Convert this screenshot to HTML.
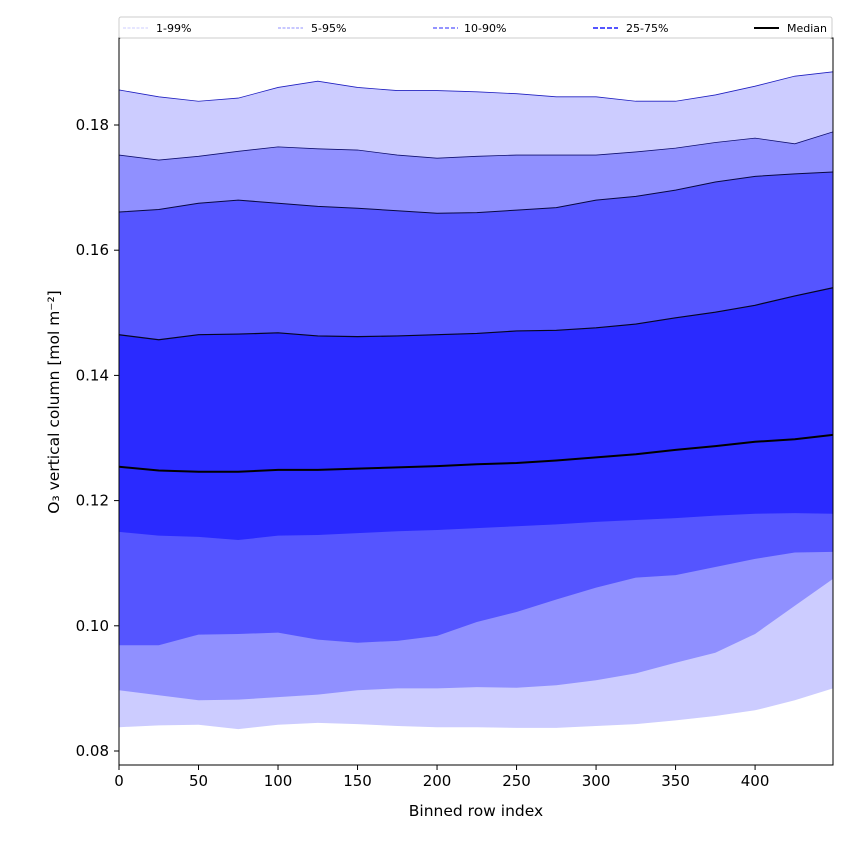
<!DOCTYPE html>
<html><head><meta charset="utf-8"><style>
body{margin:0;background:#fff;}
svg text{font-family:"DejaVu Sans","Liberation Sans",sans-serif;}
</style></head><body>
<svg id="chart" width="850" height="850" xmlns="http://www.w3.org/2000/svg"></svg>
<script>
const xIdx = [0,25,50,75,100,125,150,175,200,225,250,275,300,325,350,375,400,425,449];
const p01 = [0.0838,0.0841,0.0842,0.0835,0.0842,0.0845,0.0843,0.0840,0.0838,0.0838,0.0837,0.0837,0.0840,0.0843,0.0849,0.0856,0.0865,0.0881,0.0900];
const p05 = [0.0897,0.0889,0.0881,0.0882,0.0886,0.0890,0.0897,0.0900,0.0900,0.0902,0.0901,0.0905,0.0913,0.0924,0.0941,0.0957,0.0987,0.1032,0.1075];
const p10 = [0.0969,0.0969,0.0986,0.0987,0.0989,0.0978,0.0973,0.0976,0.0984,0.1006,0.1022,0.1042,0.1061,0.1077,0.1081,0.1094,0.1107,0.1117,0.1118];
const p25 = [0.1150,0.1144,0.1142,0.1137,0.1144,0.1145,0.1148,0.1151,0.1153,0.1156,0.1159,0.1162,0.1166,0.1169,0.1172,0.1176,0.1179,0.1180,0.1179];
const p50 = [0.1254,0.1248,0.1246,0.1246,0.1249,0.1249,0.1251,0.1253,0.1255,0.1258,0.1260,0.1264,0.1269,0.1274,0.1281,0.1287,0.1294,0.1298,0.1305];
const p75 = [0.1465,0.1457,0.1465,0.1466,0.1468,0.1463,0.1462,0.1463,0.1465,0.1467,0.1471,0.1472,0.1476,0.1482,0.1492,0.1501,0.1512,0.1527,0.1540];
const p90 = [0.1661,0.1665,0.1675,0.1680,0.1675,0.1670,0.1667,0.1663,0.1659,0.1660,0.1664,0.1668,0.1680,0.1686,0.1696,0.1709,0.1718,0.1722,0.1725];
const p95 = [0.1752,0.1744,0.1750,0.1758,0.1765,0.1762,0.1760,0.1752,0.1747,0.1750,0.1752,0.1752,0.1752,0.1757,0.1763,0.1772,0.1779,0.1770,0.1789];
const p99 = [0.1856,0.1845,0.1838,0.1843,0.1860,0.1870,0.1860,0.1855,0.1855,0.1853,0.1850,0.1845,0.1845,0.1838,0.1838,0.1848,0.1862,0.1878,0.1885];
const xTicks = [0,50,100,150,200,250,300,350,400];
const yTicks = [0.08,0.10,0.12,0.14,0.16,0.18];

const L=119,R=833,T=38,B=765;
const X=v=>L+(v-0)*(R-L)/449;
const Y=v=>125+(0.18-v)*6260;
const NS="http://www.w3.org/2000/svg";
const svg=document.getElementById('chart');
function mk(t,a,p){const e=document.createElementNS(NS,t);for(const k in a)e.setAttribute(k,a[k]);(p||svg).appendChild(e);return e;}
const clip=mk('clipPath',{id:'pc'});mk('rect',{x:L,y:T,width:R-L,height:B-T},clip);
const g=mk('g',{'clip-path':'url(#pc)'});
function band(lo,hi,fill,name){
  let d='M'+xIdx.map((x,i)=>X(x)+','+Y(hi[i])).join('L');
  for(let i=xIdx.length-1;i>=0;i--)d+='L'+X(xIdx[i])+','+Y(lo[i]);
  const e=mk('path',{d:d+'Z',fill:fill},g);
  
  
}
function line(arr,stroke,w,name){
  const e=mk('path',{d:'M'+xIdx.map((x,i)=>X(x)+','+Y(arr[i])).join('L'),fill:'none',stroke:stroke,'stroke-width':w},g);
  
  
}
band(p01,p99,'#ccccff','band-1-99');
band(p05,p95,'#9090ff','band-5-95');
band(p10,p90,'#5555ff','band-10-90');
band(p25,p75,'#2a2aff','band-25-75');
line(p99,'#2020c0',0.8,'line-p99');
line(p95,'#101070',0.8,'line-p95');
line(p90,'#080840',1,'line-p90');
line(p75,'#050520',1.2,'line-p75');
line(p50,'#000',2,'median-line');
mk('rect',{x:L,y:T,width:R-L,height:B-T,fill:'none',stroke:'#000','stroke-width':1});
xTicks.forEach(v=>{const x=X(v);mk('line',{x1:x,x2:x,y1:B,y2:B+5,stroke:'#000'});
  const t=mk('text',{x:x,y:B+21,'text-anchor':'middle','font-size':15});t.textContent=v;
  });
yTicks.forEach(v=>{const y=Y(v);mk('line',{x1:L-5,x2:L,y1:y,y2:y,stroke:'#000'});
  const t=mk('text',{x:L-10,y:y+5,'text-anchor':'end','font-size':15});t.textContent=v.toFixed(2);
  });
</script>
<svg width="850" height="850" style="position:absolute;left:0;top:0" xmlns="http://www.w3.org/2000/svg">
<text x="476" y="816" text-anchor="middle" font-size="15.5">Binned row index</text>
<text transform="translate(59,402) rotate(-90)" text-anchor="middle" font-size="15.5">O₃ vertical column [mol m⁻²]</text>
<g>
<rect x="119" y="17" width="713" height="21" fill="#fff" stroke="#ccc" rx="2"/>
<line x1="123" y1="28" x2="148" y2="28" stroke="#ccccff" stroke-dasharray="3,1.5"/>
<text x="156" y="32" font-size="11">1-99%</text>
<line x1="278" y1="28" x2="303" y2="28" stroke="#9090ff" stroke-dasharray="3,1.5"/>
<text x="311" y="32" font-size="11">5-95%</text>
<line x1="433" y1="28" x2="458" y2="28" stroke="#7070ff" stroke-width="1.5" stroke-dasharray="4,2"/>
<text x="464" y="32" font-size="11">10-90%</text>
<line x1="593" y1="28" x2="618" y2="28" stroke="#5555ff" stroke-width="2" stroke-dasharray="5,2"/>
<text x="626" y="32" font-size="11">25-75%</text>
<line x1="754" y1="28" x2="779" y2="28" stroke="#000" stroke-width="2"/>
<text x="787" y="32" font-size="11">Median</text>
</g>
</svg>
</body></html>
